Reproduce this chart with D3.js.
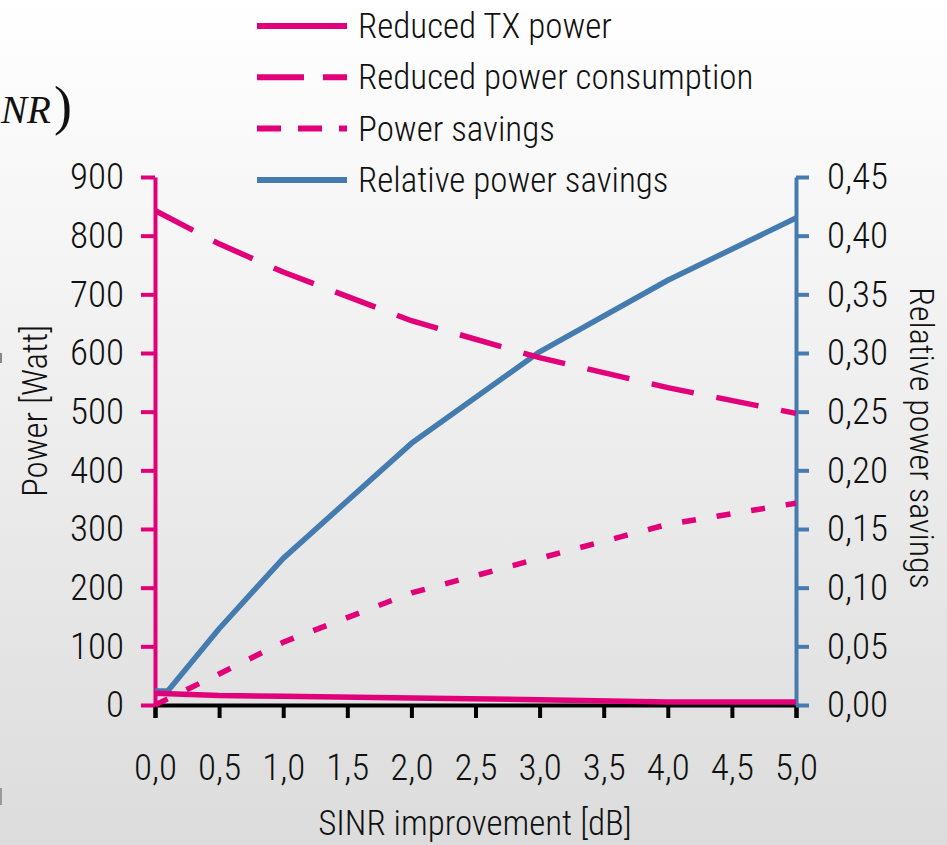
<!DOCTYPE html>
<html>
<head>
<meta charset="utf-8">
<script src="https://cdn.jsdelivr.net/npm/d3@7"></script>
<style>
  html, body { margin: 0; padding: 0; background: #fff; }
  svg { display: block; }
  text { font-family: "Liberation Sans Narrow", "Roboto Condensed", "Roboto", sans-serif; font-weight: 300; fill: #111; }
</style>
</head>
<body>
<script>
// SINR gain study: absolute power figures (left axis) and relative savings (right axis)
const sinrSteps = [0, 0.5, 1, 2, 3, 4, 5];
const reducedTxPower = [20, 16, 15, 12, 9, 5, 5];
const reducedConsumption = [843, 786, 738, 655, 592, 541, 497];
const powerSavings = [0, 53, 107, 191, 250, 308, 344];

const relSinrSteps = [0, 0.1, 0.5, 1, 2, 3, 4, 5];
const relativeSavings = [0.012, 0.012, 0.065, 0.125, 0.223, 0.301, 0.362, 0.415];

const xTicks = [0, 0.5, 1, 1.5, 2, 2.5, 3, 3.5, 4, 4.5, 5];
const leftTicks = [0, 100, 200, 300, 400, 500, 600, 700, 800, 900];
const rightTicks = [0, 0.05, 0.10, 0.15, 0.20, 0.25, 0.30, 0.35, 0.40, 0.45];

const seriesNames = ["Reduced TX power", "Reduced power consumption", "Power savings", "Relative power savings"];

const W = 947, H = 845;
const MAGENTA = "#e2007a", BLUE = "#457cb0";

const locale = d3.formatLocale({ decimal: ",", thousands: ".", grouping: [3], currency: ["", " €"] });
const fmt1 = locale.format(".1f"), fmt2 = locale.format(".2f");

const svg = d3.select("body").append("svg").attr("width", W).attr("height", H);

const defs = svg.append("defs");
const grad = defs.append("linearGradient").attr("id", "bg").attr("x1", 0).attr("y1", 0).attr("x2", 0).attr("y2", 1);
grad.append("stop").attr("offset", "0%").attr("stop-color", "#ffffff");
grad.append("stop").attr("offset", "12%").attr("stop-color", "#fbfbfb");
grad.append("stop").attr("offset", "100%").attr("stop-color", "#dcdcdc");
svg.append("rect").attr("width", W).attr("height", H).attr("fill", "url(#bg)");

// fragment of the neighbouring formula on the slide
svg.append("text").attr("x", 1).attr("y", 123)
  .style("font-family", "'Liberation Serif', 'DejaVu Serif', serif").style("font-style", "italic").style("font-weight", 400)
  .style("font-size", "39px").text("NR");
svg.append("text").attr("x", 54).attr("y", 124)
  .style("font-family", "'Liberation Serif', 'DejaVu Serif', serif").style("font-weight", 400)
  .style("font-size", "54px").text(")");
svg.append("rect").attr("x", 0).attr("y", 353).attr("width", 2).attr("height", 10).attr("fill", "#888");
svg.append("rect").attr("x", 0).attr("y", 788).attr("width", 2).attr("height", 17).attr("fill", "#999");

const x = d3.scaleLinear().domain([0, 5]).range([155, 796]);
const yL = d3.scaleLinear().domain([0, 900]).range([705, 177]);
const yR = d3.scaleLinear().domain([0, 0.45]).range([705, 177]);

// x axis
const gx = svg.append("g").attr("transform", `translate(0,${yL(0)})`)
  .call(d3.axisBottom(x).tickValues(xTicks).tickFormat(fmt1).tickSize(13).tickPadding(36));
gx.select(".domain").attr("stroke", "#000").attr("stroke-width", 4);
gx.selectAll(".tick line").attr("stroke", "#000").attr("stroke-width", 4);
gx.selectAll(".tick text").style("font-size", "37px").attr("fill", "#111");

// left axis
const gl = svg.append("g").attr("transform", `translate(${x(0)},0)`)
  .call(d3.axisLeft(yL).tickValues(leftTicks).tickFormat(d3.format("d")).tickSize(14).tickSizeOuter(0).tickPadding(17));
gl.select(".domain").attr("stroke", MAGENTA).attr("stroke-width", 4);
gl.selectAll(".tick line").attr("stroke", MAGENTA).attr("stroke-width", 4);
gl.selectAll(".tick text").style("font-size", "37px").attr("fill", "#111");

// right axis
const gr = svg.append("g").attr("transform", `translate(${x(5)},0)`)
  .call(d3.axisRight(yR).tickValues(rightTicks).tickFormat(fmt2).tickSize(13).tickSizeOuter(0).tickPadding(18));
gr.select(".domain").attr("stroke", BLUE).attr("stroke-width", 4);
gr.selectAll(".tick line").attr("stroke", BLUE).attr("stroke-width", 4);
gr.selectAll(".tick text").style("font-size", "37px").attr("fill", "#111");

// axis titles
svg.append("text").attr("x", 475).attr("y", 835).attr("text-anchor", "middle")
  .style("font-size", "35px").text("SINR improvement [dB]");
svg.append("text").attr("transform", "translate(47,411) rotate(-90)").attr("text-anchor", "middle")
  .style("font-size", "35px").text("Power [Watt]");
svg.append("text").attr("transform", "translate(910,438) rotate(90)").attr("text-anchor", "middle")
  .style("font-size", "34px").text("Relative power savings");

// series
const plot = svg.append("g");
const lineL = d3.line().x((d, i) => x(sinrSteps[i])).y(d => yL(d));
const lineR = d3.line().x((d, i) => x(relSinrSteps[i])).y(d => yR(d));

const seriesStyle = [
  { color: MAGENTA, dash: null },
  { color: MAGENTA, dash: "43,23" },
  { color: MAGENTA, dash: "14,21" },
  { color: BLUE, dash: null }
];

plot.append("path").datum(relativeSavings).attr("d", lineR)
  .attr("fill", "none").attr("stroke", BLUE).attr("stroke-width", 5.5).attr("stroke-linejoin", "round");
plot.append("path").datum(powerSavings).attr("d", lineL)
  .attr("fill", "none").attr("stroke", MAGENTA).attr("stroke-width", 5.5).attr("stroke-dasharray", seriesStyle[2].dash);
plot.append("path").datum(reducedConsumption).attr("d", lineL)
  .attr("fill", "none").attr("stroke", MAGENTA).attr("stroke-width", 5.5).attr("stroke-dasharray", seriesStyle[1].dash);
plot.append("path").datum(reducedTxPower).attr("d", lineL)
  .attr("fill", "none").attr("stroke", MAGENTA).attr("stroke-width", 5.5).attr("stroke-linejoin", "round");

// legend
const legendDash = [null, "47,19", "24,17", null];
const lg = svg.append("g");
seriesNames.forEach((name, i) => {
  const yy = 26 + i * 51.3;
  lg.append("line").attr("x1", 257).attr("x2", 347).attr("y1", yy).attr("y2", yy)
    .attr("stroke", seriesStyle[i].color).attr("stroke-width", 6)
    .attr("stroke-dasharray", legendDash[i]);
  lg.append("text").attr("x", 358).attr("y", yy + 12).style("font-size", "35px").text(name);
});
</script>
</body>
</html>
